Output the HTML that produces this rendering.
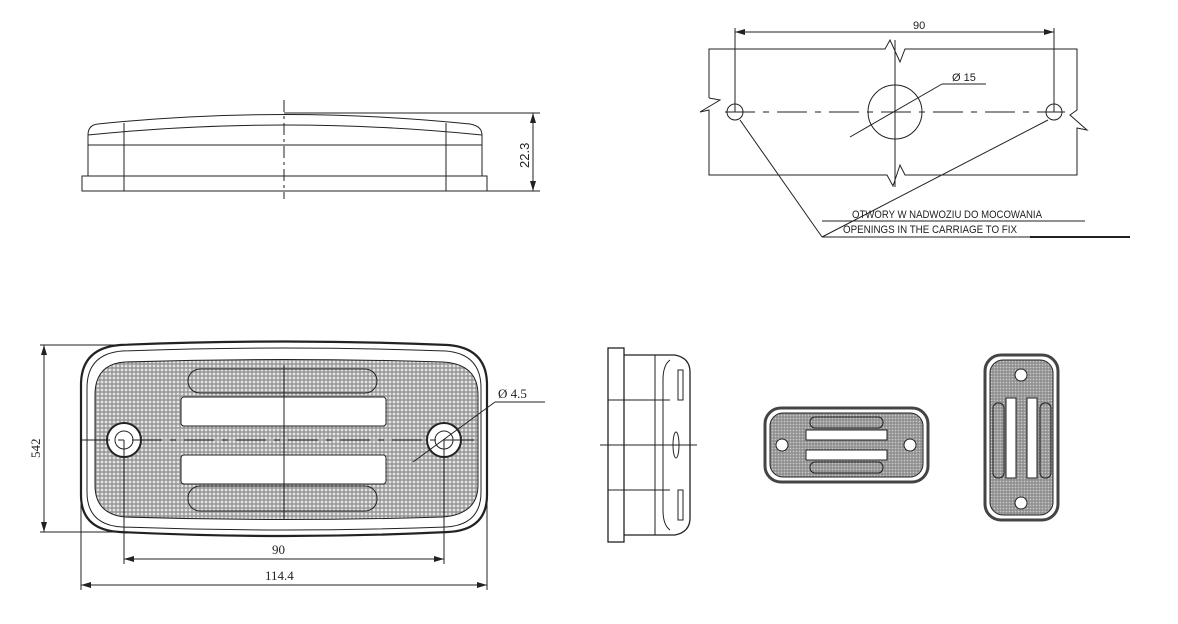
<!DOCTYPE html>
<html><head><meta charset="utf-8"><style>
html,body{margin:0;padding:0;background:#fff;width:1178px;height:624px;overflow:hidden}
text{font-family:"Liberation Serif",serif;fill:#222}
.s{font-family:"Liberation Sans",sans-serif}
</style></head><body>
<svg width="1178" height="624" viewBox="0 0 1178 624" xmlns="http://www.w3.org/2000/svg">
<defs>
<pattern id="hx" width="4" height="4" patternUnits="userSpaceOnUse">
<rect width="4" height="4" fill="#9a9a9a"/><circle cx="2" cy="2" r="1.4" fill="#e4e4e4"/>
</pattern>
<pattern id="hx2" width="3" height="3" patternUnits="userSpaceOnUse">
<rect width="3" height="3" fill="#8f8f8f"/><circle cx="1.5" cy="1.5" r="0.9" fill="#c8c8c8"/>
</pattern>
<marker id="a" viewBox="0 0 10 6" refX="10" refY="3" markerWidth="10" markerHeight="6" orient="auto-start-reverse" markerUnits="userSpaceOnUse"><path d="M0,0 L10,3 L0,6 z" fill="#222"/></marker>
</defs>
<g fill="none" stroke="#222" stroke-width="1">
<!-- top-left side view -->
<rect x="82" y="176" width="405" height="15"/>
<path d="M88,176 V135 Q88,125 98,124 Q284,105 470,124 Q482,126 482,135 V176"/>
<path d="M88,135 Q284,115 482,135"/>
<line x1="88" y1="145" x2="482" y2="145"/>
<line x1="124" y1="123" x2="124" y2="191"/><line x1="446" y1="123" x2="446" y2="191"/>
<line x1="284" y1="100" x2="284" y2="199" stroke-dasharray="12,4,3,4"/>
<line x1="284" y1="113" x2="540" y2="113"/><line x1="487" y1="191" x2="540" y2="191"/>
<line x1="533" y1="113" x2="533" y2="191" marker-start="url(#a)" marker-end="url(#a)"/>
<!-- top-right mounting -->
<line x1="735" y1="28" x2="735" y2="112"/><line x1="1054" y1="28" x2="1054" y2="112"/>
<line x1="735" y1="32" x2="1054" y2="32" marker-start="url(#a)" marker-end="url(#a)"/>
<path d="M709,98 V49 H885 L890,40 L900,62 L905,49 H1077 V110 L1070,115 L1087,130 L1077,128 V175 H905 L900,165 L893,186 L887,175 H709 V110 L700,112 L720,100 L709,98"/>
<circle cx="735" cy="112" r="8"/><circle cx="1054" cy="112" r="8"/>
<circle cx="895" cy="112" r="27"/>
<line x1="725" y1="112" x2="1065" y2="112" stroke-dasharray="30,8,6,8"/>
<line x1="895" y1="40" x2="895" y2="187"/>
<line x1="850" y1="137" x2="942" y2="84"/><line x1="942" y1="84" x2="986" y2="84"/>
<line x1="740" y1="120" x2="822" y2="237"/><line x1="1048" y1="120" x2="822" y2="237"/>
<line x1="822" y1="221" x2="1085" y2="221"/><line x1="822" y1="237" x2="1130" y2="237"/>
<line x1="1030" y1="237" x2="1130" y2="237" stroke-width="2"/>
<!-- front view -->
<path d="M120,345 Q284,338 448,345 Q487,348 487,385 V495 Q487,530 448,532 Q284,540 120,532 Q81,530 81,495 V385 Q81,348 120,345 Z" stroke-width="2.2"/>
<path d="M122,351 Q284,345 446,351 Q481,354 481,388 V492 Q481,525 446,527 Q284,533 122,527 Q87,525 87,492 V388 Q87,354 122,351 Z"/>
<path d="M125,362 Q284,357 443,362 Q478,364 478,395 V485 Q478,514 443,517 Q284,522 125,517 Q95,514 95,485 V395 Q95,364 125,362 Z" fill="url(#hx)"/>
<rect x="188" y="369" width="189" height="24" rx="12" fill="url(#hx)"/>
<rect x="188" y="486" width="189" height="25" rx="12" fill="url(#hx)"/>
<rect x="181" y="397" width="205" height="29" rx="3" fill="#fff"/>
<rect x="181" y="455" width="205" height="29" rx="3" fill="#fff"/>
<circle cx="124" cy="440" r="17" fill="#fff" stroke-width="2"/><circle cx="124" cy="440" r="9"/>
<circle cx="444" cy="440" r="17" fill="#fff" stroke-width="2"/><circle cx="444" cy="440" r="9"/>
<line x1="80" y1="440" x2="480" y2="440" stroke-dasharray="30,8,6,8"/>
<line x1="284" y1="365" x2="284" y2="520"/>
<line x1="413" y1="462" x2="495" y2="402"/><line x1="495" y1="402" x2="545" y2="402"/>
<line x1="40" y1="345" x2="120" y2="345"/><line x1="40" y1="532" x2="120" y2="532"/>
<line x1="44" y1="345" x2="44" y2="532" marker-start="url(#a)" marker-end="url(#a)"/>
<line x1="124" y1="440" x2="124" y2="564"/><line x1="444" y1="440" x2="444" y2="564"/>
<line x1="124" y1="559" x2="444" y2="559" marker-start="url(#a)" marker-end="url(#a)"/>
<line x1="81" y1="500" x2="81" y2="590"/><line x1="487" y1="500" x2="487" y2="590"/>
<line x1="81" y1="585" x2="487" y2="585" marker-start="url(#a)" marker-end="url(#a)"/>
<!-- small side view -->
<rect x="608" y="348" width="16" height="194" stroke-width="1.3"/>
<path d="M624,355 H675 Q690,358 690,372 V518 Q690,532 675,535 H624" stroke-width="1.3"/>
<path d="M670,360 Q663,365 663,380 V510 Q663,525 670,530"/>
<line x1="655" y1="355" x2="655" y2="535"/>
<line x1="608" y1="400" x2="670" y2="400"/><line x1="608" y1="490" x2="670" y2="490"/>
<line x1="600" y1="445" x2="697" y2="445"/>
<rect x="678" y="370" width="5" height="30"/><rect x="678" y="490" width="5" height="30"/>
<ellipse cx="676" cy="445" rx="3" ry="13"/>
<!-- small front -->
<rect x="765" y="408" width="163" height="74" rx="16" stroke-width="3" stroke="#444"/>
<rect x="770" y="413" width="153" height="64" rx="13" fill="url(#hx2)"/>
<rect x="810" y="417" width="73" height="11" rx="5" fill="url(#hx2)"/>
<rect x="810" y="462" width="73" height="11" rx="5" fill="url(#hx2)"/>
<rect x="806" y="430" width="81" height="10" fill="#fff"/>
<rect x="806" y="450" width="81" height="10" fill="#fff"/>
<circle cx="782" cy="445" r="6" fill="#fff"/><circle cx="910" cy="445" r="6" fill="#fff"/>
<!-- small vertical -->
<rect x="985" y="355" width="73" height="165" rx="16" stroke-width="3" stroke="#444"/>
<rect x="990" y="360" width="63" height="155" rx="13" fill="url(#hx2)"/>
<rect x="993" y="403" width="11" height="75" rx="5" fill="url(#hx2)"/>
<rect x="1040" y="403" width="11" height="75" rx="5" fill="url(#hx2)"/>
<rect x="1006" y="398" width="10" height="80" fill="#fff"/>
<rect x="1027" y="398" width="10" height="80" fill="#fff"/>
<circle cx="1021" cy="375" r="6" fill="#fff"/><circle cx="1021" cy="503" r="6" fill="#fff"/>
</g>
<text x="913" y="29" font-size="11" class="s">90</text>
<text x="952" y="81" font-size="11" class="s">Ø 15</text>
<text x="852" y="218" font-size="11" class="s" textLength="190" lengthAdjust="spacingAndGlyphs">OTWORY W NADWOZIU DO MOCOWANIA</text>
<text x="843" y="233" font-size="11" class="s" textLength="174" lengthAdjust="spacingAndGlyphs">OPENINGS IN THE CARRIAGE TO FIX</text>
<text transform="translate(529,168) rotate(-90)" font-size="13" class="s">22.3</text>
<text transform="translate(40,458) rotate(-90)" font-size="13">542</text>
<text x="498" y="398" font-size="13">Ø  4.5</text>
<text x="272" y="554" font-size="13">90</text>
<text x="265" y="580" font-size="13">114.4</text>
</svg>
</body></html>
